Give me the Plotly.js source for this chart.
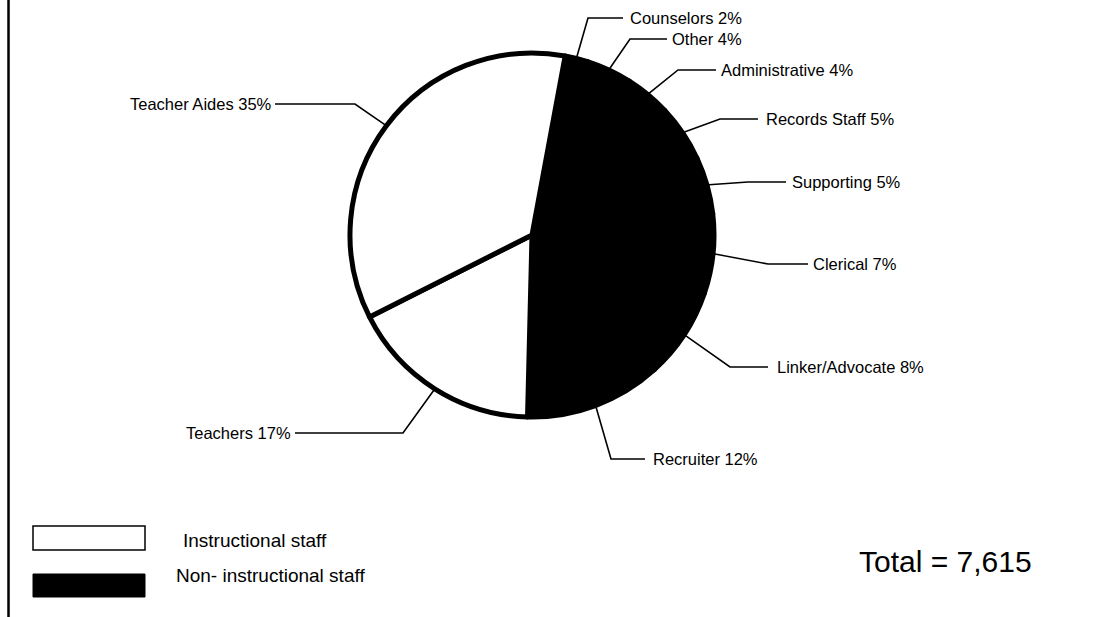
<!DOCTYPE html>
<html>
<head>
<meta charset="utf-8">
<script src="https://cdn.plot.ly/plotly-3.0.1.min.js"></script>
<style>html,body{margin:0;padding:0;background:#fff;}#chart{width:1099px;height:617px;}</style>
</head>
<body>
<div id="chart"></div>
<script>
// ---- data ----
var categories = ['Counselors','Other','Administrative','Records Staff','Supporting','Clerical','Linker/Advocate','Recruiter','Teachers','Teacher Aides'];
var percents = [2,4,4,5,5,7,8,12,17,35];
var staffGroup = ['Non-instructional','Non-instructional','Non-instructional','Non-instructional','Non-instructional','Non-instructional','Non-instructional','Non-instructional','Instructional','Instructional'];
var legendLabels = ['Instructional staff','Non- instructional staff'];
var totalStaff = 7615;

// ---- layout constants (pixels) ----
var W = 1099, H = 617;
var CX = 532, CY = 235, R = 182;
var ROTATION = 10.5;
// label placement: elbow point, end of horizontal line, text anchor x, side
var labelPos = [
  {ex:588, ey:18,  hx:623, tx:629, side:'left'},
  {ex:630, ey:39,  hx:667, tx:671, side:'left'},
  {ex:678, ey:70,  hx:716, tx:720, side:'left'},
  {ex:720, ey:119, hx:758, tx:765, side:'left'},
  {ex:748, ey:182, hx:786, tx:791, side:'left'},
  {ex:768, ey:264, hx:808, tx:812, side:'left'},
  {ex:730, ey:367, hx:768, tx:776, side:'left'},
  {ex:611, ey:459, hx:645, tx:652, side:'left'},
  {ex:403, ey:433, hx:295, tx:292, side:'right'},
  {ex:355, ey:104, hx:275, tx:273, side:'right'}
];

function px(x){ return x / W; }
function py(y){ return 1 - y / H; }

var colors = staffGroup.map(function(g){ return g === 'Instructional' ? '#ffffff' : '#000000'; });
var FONT = 'Liberation Sans, Arial, sans-serif';

var trace = {
  type: 'pie',
  labels: categories,
  values: percents,
  sort: false,
  direction: 'clockwise',
  rotation: ROTATION,
  textinfo: 'none',
  hoverinfo: 'label+percent',
  showlegend: false,
  marker: { colors: colors, line: { color: '#000000', width: 5 } },
  domain: { x: [px(CX - R), px(CX + R)], y: [py(CY + R), py(CY - R)] }
};

var shapes = [];
var annotations = [];

// leader lines, start point derived from the slice mid-angle
var sum = percents.reduce(function(a,b){return a+b;}, 0);
var cum = 0;
percents.forEach(function(v, i){
  var mid = ROTATION + (cum + v / 2) / sum * 360;
  cum += v;
  var a = mid * Math.PI / 180;
  var sx = CX + (R + 2) * Math.sin(a);
  var sy = CY - (R + 2) * Math.cos(a);
  var L = labelPos[i];
  shapes.push({
    type: 'path', xref: 'paper', yref: 'paper',
    path: 'M ' + px(sx) + ' ' + py(sy) + ' L ' + px(L.ex) + ' ' + py(L.ey) + ' L ' + px(L.hx) + ' ' + py(L.ey),
    line: { color: '#000', width: 1.6 }
  });
  annotations.push({
    xref: 'paper', yref: 'paper', x: px(L.tx), y: py(L.ey),
    xanchor: L.side, yanchor: 'middle', showarrow: false,
    text: categories[i] + ' ' + v + '%',
    font: { family: FONT, size: 16.5, color: '#000' },
    borderpad: 0
  });
});

// frame line on the left
shapes.push({ type: 'line', xref: 'paper', yref: 'paper', x0: px(8.5), x1: px(8.5), y0: 0, y1: 1, line: { color: '#000', width: 2.5 } });

// legend swatches
shapes.push({ type: 'rect', xref: 'paper', yref: 'paper', x0: px(33), x1: px(145), y0: py(550), y1: py(526), fillcolor: '#fff', line: { color: '#000', width: 1.5 } });
shapes.push({ type: 'rect', xref: 'paper', yref: 'paper', x0: px(33), x1: px(145), y0: py(597), y1: py(574), fillcolor: '#000', line: { color: '#000', width: 1 } });
annotations.push({ xref: 'paper', yref: 'paper', x: px(182), y: py(540), xanchor: 'left', yanchor: 'middle', showarrow: false,
  text: legendLabels[0], font: { family: FONT, size: 19, color: '#000' }, borderpad: 0 });
annotations.push({ xref: 'paper', yref: 'paper', x: px(175), y: py(575), xanchor: 'left', yanchor: 'middle', showarrow: false,
  text: legendLabels[1], font: { family: FONT, size: 19, color: '#000' }, borderpad: 0 });

// total
annotations.push({ xref: 'paper', yref: 'paper', x: px(858), y: py(561), xanchor: 'left', yanchor: 'middle', showarrow: false,
  text: 'Total = ' + totalStaff.toLocaleString('en-US'), font: { family: FONT, size: 30, color: '#000' }, borderpad: 0 });

var layout = {
  width: W, height: H, autosize: false,
  margin: { l: 0, r: 0, t: 0, b: 0, pad: 0 },
  paper_bgcolor: '#ffffff', plot_bgcolor: '#ffffff',
  showlegend: false,
  shapes: shapes,
  annotations: annotations
};

Plotly.newPlot('chart', [trace], layout, { displayModeBar: false, staticPlot: true });
</script>
</body>
</html>
